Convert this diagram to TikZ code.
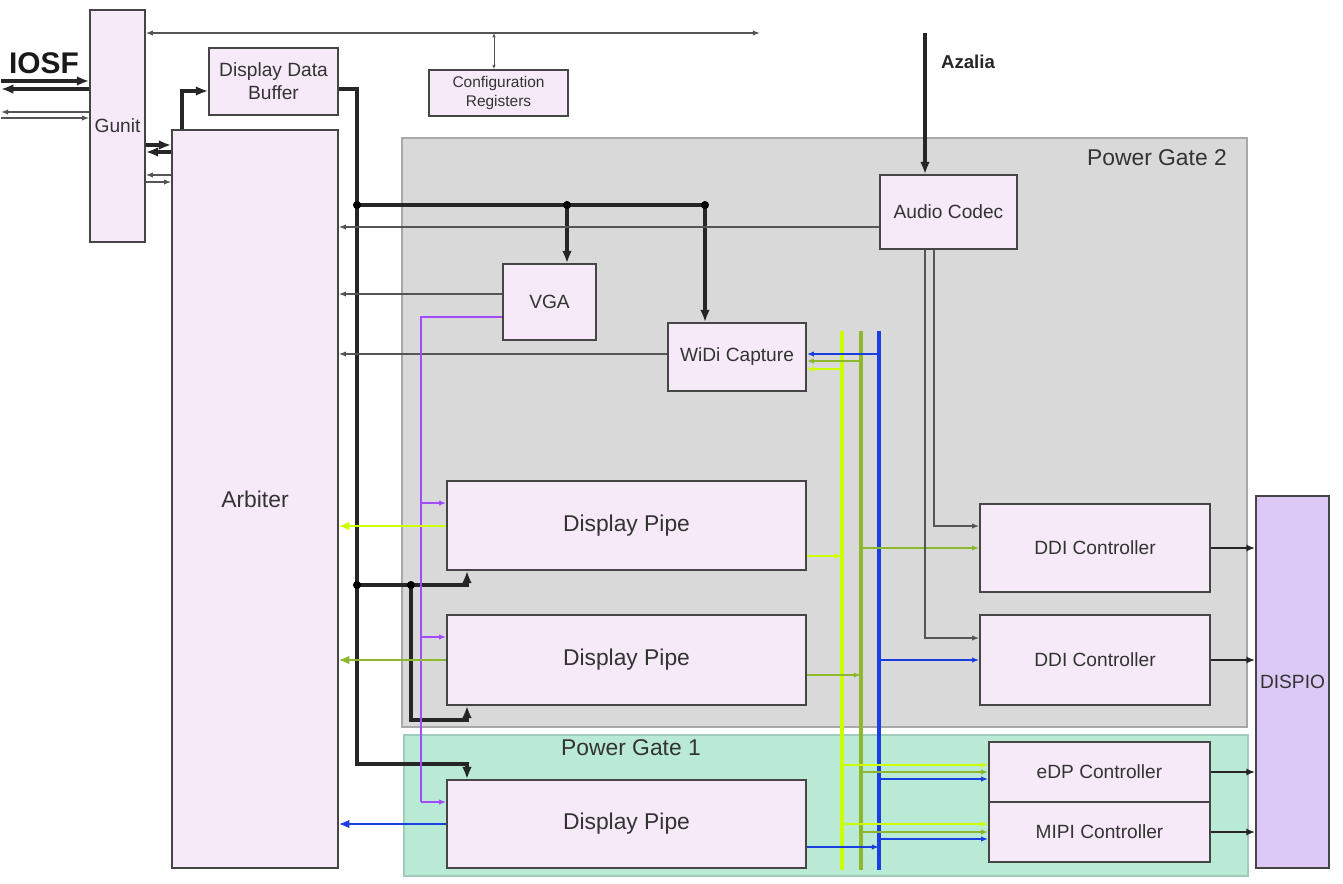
\documentclass[tikz,border=0pt]{standalone}
\usepackage{fontspec}
\setmainfont{Liberation Sans}
\usetikzlibrary{arrows.meta,fit,calc}
\definecolor{boxfill}{HTML}{F6EAF8}
\definecolor{boxline}{HTML}{454545}
\definecolor{pgtwofill}{HTML}{D9D9D9}
\definecolor{pgtwoline}{HTML}{A8A8A8}
\definecolor{pgonefill}{HTML}{B9EAD5}
\definecolor{pgoneline}{HTML}{9FCDB9}
\definecolor{dispfill}{HTML}{DCC9F5}
\definecolor{txt}{HTML}{333333}
\definecolor{yel}{HTML}{CCFF00}
\definecolor{grn}{HTML}{8DB82E}
\definecolor{blu}{HTML}{1A3FE0}
\definecolor{pur}{HTML}{A24BFF}
\definecolor{wire}{HTML}{555555}
\tikzset{
  boxshape/.style={draw=boxline, fill=boxfill, line width=0.9pt, inner sep=0pt},
  boxtext/.style={text=txt, align=center, inner sep=0pt, font=\fontsize{10.9pt}{13pt}\selectfont},
  bigtxt/.style={font=\fontsize{13pt}{15pt}\selectfont},
  smalltxt/.style={font=\fontsize{8.8pt}{10.5pt}\selectfont},
  pgtwo/.style={draw=pgtwoline, fill=pgtwofill, line width=0.8pt, inner sep=0pt},
  pgone/.style={draw=pgoneline, fill=pgonefill, line width=0.8pt, inner sep=0pt},
  thickarr/.style={draw=black!85, line width=1.9pt, -{Latex[length=7pt,width=5.5pt]}},
  thickline/.style={draw=black!85, line width=1.9pt},
  thinarr/.style={draw=wire, line width=0.75pt, -{Latex[length=4pt,width=3pt]}},
  colarr/.style={line width=1pt, -{Latex[length=4pt,width=3pt]}},
  bus/.style={line width=1.9pt},
  jdot/.style={fill=black},
}
\newcommand\blk[4][]{%
  \node[boxshape, fit=#3] (#2) {};
  \node[boxtext, #1] (#2-t) at (#2.center) {#4};}
\begin{document}
\begin{tikzpicture}[x=0.02cm,y=-0.02cm]
\useasboundingbox (0,0) rectangle (1343,883);

% power gates
\node[pgtwo, fit={(402,138) (1247,727)}] (pg2) {};
\node[pgone, fit={(404,735) (1248,876)}] (pg1) {};
\node[bigtxt, text=txt, anchor=east] (pg2lbl) at (1233,158) {Power Gate 2};
\node[bigtxt, text=txt] (pg1lbl) at (631,748) {Power Gate 1};

% boxes
\blk{gunit}{{(90,10) (145,242)}}{Gunit}
\blk{ddb}{{(209,48) (338,115)}}{Display Data\\Buffer}
\blk[smalltxt]{cfg}{{(429,70) (568,116)}}{Configuration\\Registers}
\blk[bigtxt]{arb}{{(172,130) (338,868)}}{Arbiter}
\blk{audio}{{(880,175) (1017,249)}}{Audio Codec}
\blk{vga}{{(503,264) (596,340)}}{VGA}
\blk{widi}{{(668,323) (806,391)}}{WiDi Capture}
\blk[bigtxt]{dp1}{{(447,481) (806,570)}}{Display Pipe}
\blk[bigtxt]{dp2}{{(447,615) (806,705)}}{Display Pipe}
\blk[bigtxt]{dp3}{{(447,780) (806,868)}}{Display Pipe}
\blk{ddi1}{{(980,504) (1210,592)}}{DDI Controller}
\blk{ddi2}{{(980,615) (1210,705)}}{DDI Controller}
\blk{edp}{{(989,742) (1210,802)}}{eDP Controller}
\blk{mipi}{{(989,802) (1210,862)}}{MIPI Controller}
\node[boxshape, fill=dispfill, fit={(1256,496) (1329,868)}] (dispio) {};
\node[boxtext] (dispio-t) at (dispio.center) {DISPIO};

% labels
\node[font=\fontsize{17pt}{19pt}\selectfont\bfseries, text=black!90] (iosf) at (44,63) {IOSF};
\node[font=\fontsize{10.6pt}{12pt}\selectfont\bfseries, text=black!85] (azalia) at (968,62) {Azalia};

% free-end coordinates
\coordinate (lm) at (1,0);
\coordinate (topR) at (760,33);
\coordinate (cfgT) at (494,33);
\coordinate (azT) at (925,33);
\coordinate (spine) at (357,0);
\coordinate (jA) at (567,205);
\coordinate (jB) at (705,205);
\coordinate (jC) at (411,585);
\coordinate (purx) at (421,317);
\coordinate (ybT) at (842,331);
\coordinate (ybB) at (842,870);
\coordinate (gbT) at (861,331);
\coordinate (gbB) at (861,870);
\coordinate (bbT) at (879,331);
\coordinate (bbB) at (879,870);

% IOSF to Gunit
\draw[thickarr] (lm |- 0,81) -- (gunit.west |- 0,81);
\draw[thickarr] (gunit.west |- 0,89) -- (lm |- 0,89);
\draw[thinarr] (gunit.west |- 0,112) -- (lm |- 0,112);
\draw[thinarr] (lm |- 0,118) -- (gunit.west |- 0,118);

% top bus and config registers
\draw[thinarr, {Latex[length=4pt,width=3pt]}-{Latex[length=4pt,width=3pt]}] (gunit.east |- topR) -- (topR);
\draw[draw=wire, line width=0.5pt, {Latex[length=2.5pt,width=2pt]}-{Latex[length=2.5pt,width=2pt]}] (cfgT) -- (cfgT |- cfg.north);

% Azalia
\draw[thickarr] (azT) -- (azT |- audio.north);

% Gunit <-> Arbiter
\draw[thickarr] (gunit.east |- 0,145) -- (arb.west |- 0,145);
\draw[thickarr] (arb.west |- 0,152) -- (gunit.east |- 0,152);
\draw[thinarr] (arb.west |- 0,175) -- (gunit.east |- 0,175);
\draw[thinarr] (gunit.east |- 0,182) -- (arb.west |- 0,182);

% Arbiter -> Display Data Buffer
\draw[thickarr] (arb.north -| 182,0) |- (ddb.west |- 0,91);

% Display Data Buffer -> spine -> Display Pipe 3
\draw[thickarr] (ddb.east |- 0,89) -| (spine |- 0,764) -| (dp3.north -| 467,0);
\draw[thickline] (spine |- jA) -- (jB);
\draw[thickarr] (jA) -- (jA |- vga.north);
\draw[thickarr] (jB) -- (jB |- widi.north);
\draw[thickarr] (spine |- jC) -| (dp1.south -| 467,0);
\draw[thickarr] (jC) |- (467,720) -- (dp2.south -| 467,0);
\foreach \p in {spine |- jA, jA, jB, spine |- jC, jC}
  \fill[jdot] (\p) circle (2.3pt);

% feedback to Arbiter
\draw[thinarr] (audio.west |- 0,227) -- (arb.east |- 0,227);
\draw[thinarr] (vga.west |- 0,294) -- (arb.east |- 0,294);
\draw[thinarr] (widi.west |- 0,354) -- (arb.east |- 0,354);

% VGA purple to pipes
\draw[draw=pur, line width=1pt] (vga.west |- purx) -- (purx) -- (purx |- 0,802);
\draw[colarr, draw=pur] (purx |- 0,503) -- (dp1.west |- 0,503);
\draw[colarr, draw=pur] (purx |- 0,637) -- (dp2.west |- 0,637);
\draw[colarr, draw=pur] (purx |- 0,802) -- (dp3.west |- 0,802);

% pipes to Arbiter
\draw[line width=1.6pt, draw=yel, -{Latex[length=6pt,width=5pt]}] (dp1.west |- 0,526) -- (arb.east |- 0,526);
\draw[line width=1.2pt, draw=grn, -{Latex[length=6pt,width=5pt]}] (dp2.west |- 0,660) -- (arb.east |- 0,660);
\draw[line width=1.2pt, draw=blu, -{Latex[length=6pt,width=5pt]}] (dp3.west |- 0,824) -- (arb.east |- 0,824);

% buses
\draw[bus, draw=yel] (ybT) -- (ybB);
\draw[bus, draw=grn] (gbT) -- (gbB);
\draw[bus, draw=blu] (bbT) -- (bbB);

% buses to WiDi
\draw[colarr, draw=blu] (bbT |- 0,354) -- (widi.east |- 0,354);
\draw[colarr, draw=grn] (gbT |- 0,361) -- (widi.east |- 0,361);
\draw[colarr, draw=yel] (ybT |- 0,369) -- (widi.east |- 0,369);

% pipes to buses
\draw[colarr, draw=yel] (dp1.east |- 0,556) -- (ybT |- 0,556);
\draw[colarr, draw=grn] (dp2.east |- 0,675) -- (gbT |- 0,675);
\draw[colarr, draw=blu] (dp3.east |- 0,847) -- (bbT |- 0,847);

% buses to DDI
\draw[colarr, draw=grn] (gbT |- 0,548) -- (ddi1.west |- 0,548);
\draw[colarr, draw=blu] (bbT |- 0,660) -- (ddi2.west |- 0,660);

% audio to DDI
\draw[thinarr] (audio.south -| 934,0) |- (ddi1.west |- 0,526);
\draw[thinarr] (audio.south -| 925,0) |- (ddi2.west |- 0,638);

% buses to eDP / MIPI
\draw[colarr, draw=yel] (ybT |- 0,765) -- (edp.west |- 0,765);
\draw[colarr, draw=grn] (gbT |- 0,772) -- (edp.west |- 0,772);
\draw[colarr, draw=blu] (bbT |- 0,779) -- (edp.west |- 0,779);
\draw[colarr, draw=yel] (ybT |- 0,824) -- (mipi.west |- 0,824);
\draw[colarr, draw=grn] (gbT |- 0,832) -- (mipi.west |- 0,832);
\draw[colarr, draw=blu] (bbT |- 0,839) -- (mipi.west |- 0,839);

% controllers to DISPIO
\draw[draw=black!85, line width=1.2pt, -{Latex[length=5pt,width=4pt]}] (ddi1.east |- 0,548) -- (dispio.west |- 0,548);
\draw[draw=black!85, line width=1.2pt, -{Latex[length=5pt,width=4pt]}] (ddi2.east |- 0,660) -- (dispio.west |- 0,660);
\draw[draw=black!85, line width=1.2pt, -{Latex[length=5pt,width=4pt]}] (edp.east |- 0,772) -- (dispio.west |- 0,772);
\draw[draw=black!85, line width=1.2pt, -{Latex[length=5pt,width=4pt]}] (mipi.east |- 0,832) -- (dispio.west |- 0,832);
\end{tikzpicture}
\end{document}
